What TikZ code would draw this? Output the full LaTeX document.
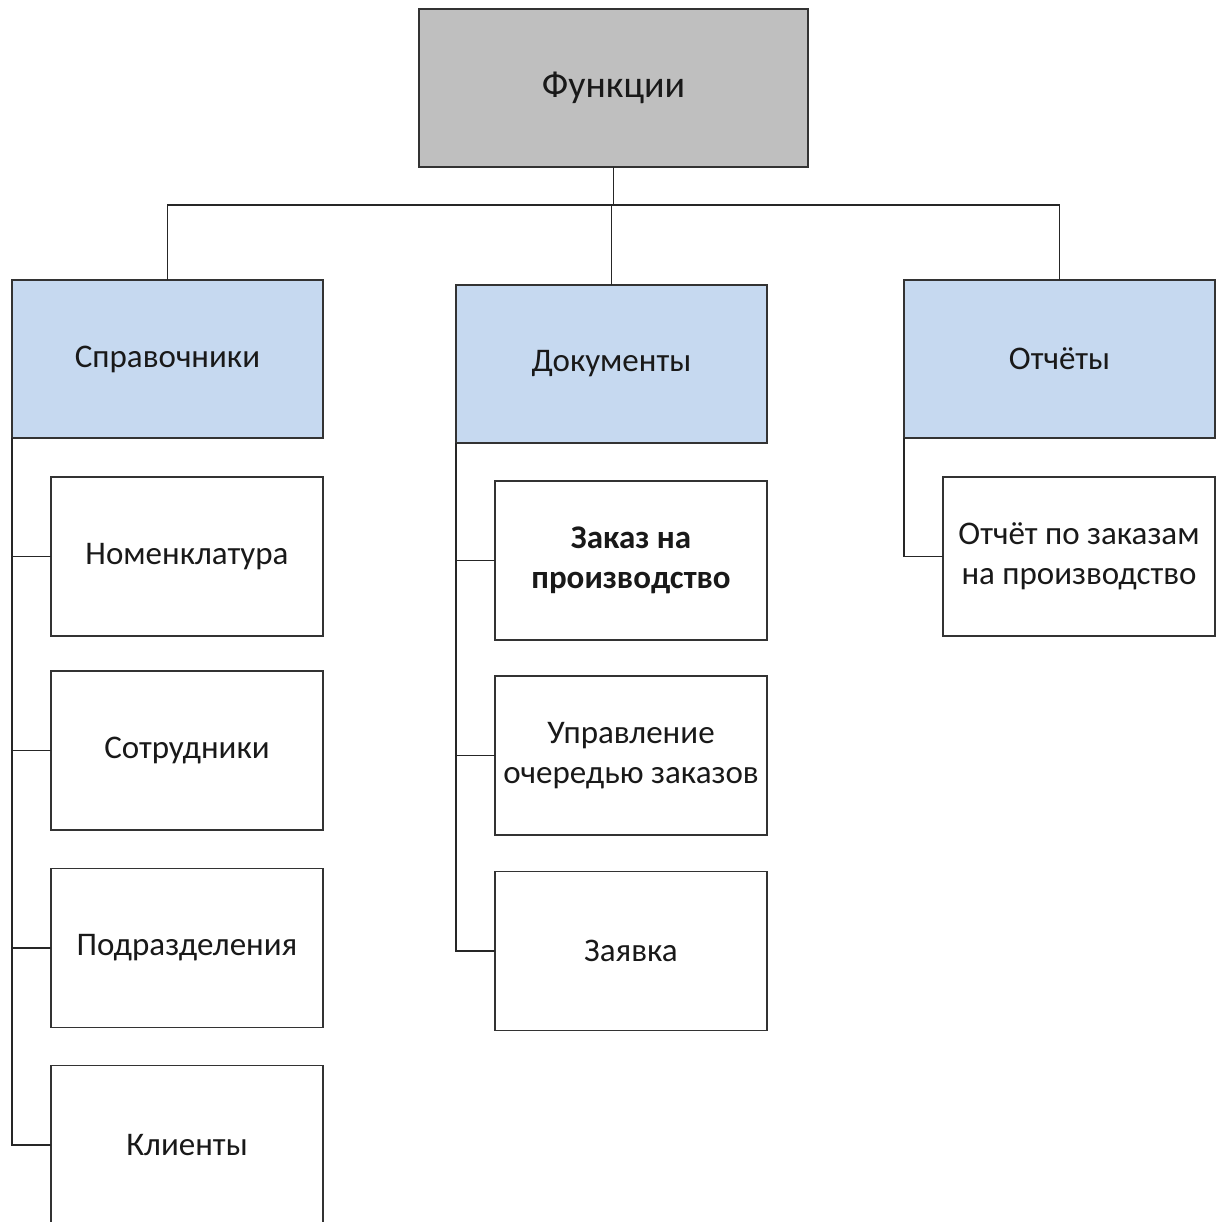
\documentclass[tikz,border=0pt]{standalone}
\usepackage{fontspec}
\setmainfont{Carlito}
\begin{document}
\begin{tikzpicture}[x=1pt,y=-1pt,
  box/.style={draw=black!80, line width=1.7pt, outer sep=0pt, inner sep=2pt,
    align=center, text=black!90, font=\fontsize{33}{40}\selectfont},
  topbox/.style={box, fill=black!25, minimum width=389pt, minimum height=158pt,
    font=\fontsize{38}{44}\selectfont},
  groupbox/.style={box, fill={rgb,255:red,198;green,217;blue,240},
    minimum width=311pt, minimum height=158pt},
  itembox/.style={box, fill=white, minimum width=272pt, minimum height=159pt},
  link/.style={draw=black!85, line width=1.7pt}]
\useasboundingbox (0,0) rectangle (1216,1222);
\clip (0,0) rectangle (1216,1222);
\fill[white] (0,0) rectangle (1216,1222);

% root
\node[topbox] (root) at (613.5,88) {Функции};

% second level
\node[groupbox] (sprav) at (167.5,359) {Справочники};
\node[groupbox] (docs) at (611.5,364) {Документы};
\node[groupbox] (otch) at (1059.5,359) {Отчёты};

% catalogues
\node[itembox] (nom) at (187,556.5) {Номенклатура};
\node[itembox] (sotr) at (187,750.5) {Сотрудники};
\node[itembox] (podr) at (187,948) {Подразделения};
\node[itembox] (kli) at (187,1145) {Клиенты};

% documents
\node[itembox, font=\fontsize{33}{40}\selectfont\bfseries] (zakaz) at (631,560.5) {Заказ на\\производство};
\node[itembox] (uprav) at (631,755.5) {Управление\\очередью заказов};
\node[itembox] (zayav) at (631,951) {Заявка};

% reports
\node[itembox] (otchz) at (1079,556.5) {Отчёт по заказам\\на производство};

% root to groups
\coordinate (bus) at (613,205);
\draw[link] (root.south) -- (root.south |- bus);
\draw[link] (docs.north |- bus) -- (docs.north);
\draw[link] (sprav.north) |- (bus) -| (otch.north);

% group spines
\draw[link] (sprav.south west) |- (kli.west);
\draw[link] (sprav.south west |- nom.west) -- (nom.west);
\draw[link] (sprav.south west |- sotr.west) -- (sotr.west);
\draw[link] (sprav.south west |- podr.west) -- (podr.west);

\draw[link] (docs.south west) |- (zayav.west);
\draw[link] (docs.south west |- zakaz.west) -- (zakaz.west);
\draw[link] (docs.south west |- uprav.west) -- (uprav.west);

\draw[link] (otch.south west) |- (otchz.west);
\end{tikzpicture}
\end{document}
